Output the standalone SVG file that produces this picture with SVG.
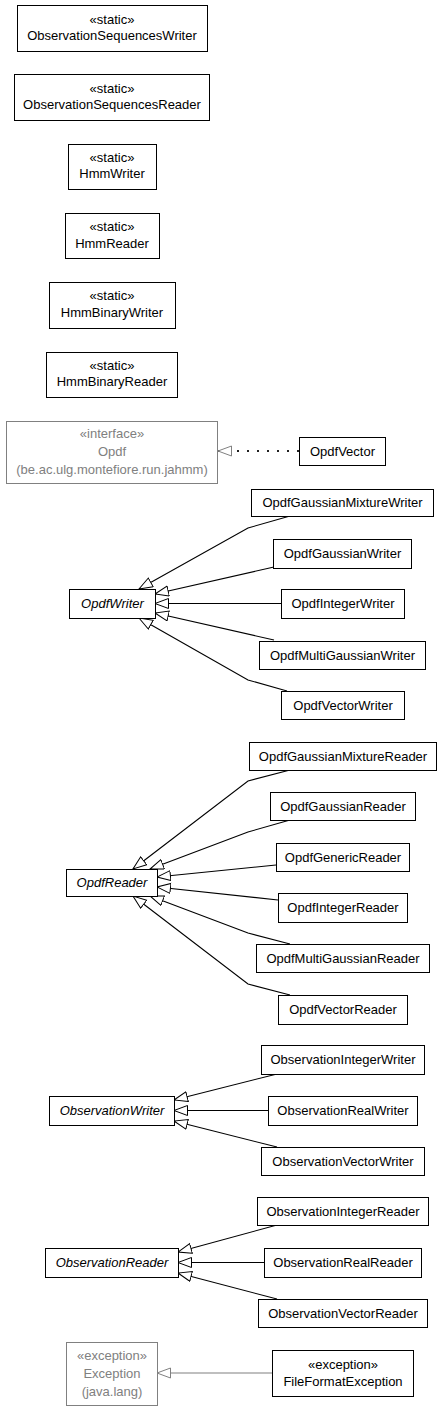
<svg xmlns="http://www.w3.org/2000/svg" width="443" height="1409" viewBox="0 0 443 1409">
<style>
  .box{fill:#fff;stroke:#000;stroke-width:1}
  .ext{fill:#fff;stroke:#808080;stroke-width:1}
  text{font-family:"Liberation Sans",Arial,sans-serif;font-size:13px;text-anchor:middle;fill:#000}
  .g{fill:#808080}
  .it{font-style:italic}
  .edge{fill:none;stroke:#000;stroke-width:1.1}
  .dot{fill:none;stroke:#222;stroke-width:2;stroke-dasharray:2,8}
</style>
<defs>
  <marker id="tri" markerUnits="userSpaceOnUse" markerWidth="16" markerHeight="12" refX="14" refY="5.5" orient="auto" viewBox="0 0 16 12">
    <path d="M0.5,0.5 L14,5.5 L0.5,10.5 Z" fill="#fff" stroke="#000" stroke-width="1"/>
  </marker>
  <marker id="trig" markerUnits="userSpaceOnUse" markerWidth="16" markerHeight="12" refX="14" refY="5.5" orient="auto" viewBox="0 0 16 12">
    <path d="M0.5,0.5 L14,5.5 L0.5,10.5 Z" fill="#fff" stroke="#808080" stroke-width="1"/>
  </marker>
</defs>

<g id="connectors">
  <path class="dot" d="M299,451 L218,451" marker-end="url(#trig)"/>
  <path class="edge" d="M290,516 L248,528 L139,589" marker-end="url(#tri)"/>
  <path class="edge" d="M274,567 L155,594" marker-end="url(#tri)"/>
  <path class="edge" d="M281,603.5 L155,603.5" marker-end="url(#tri)"/>
  <path class="edge" d="M274,640 L155,613" marker-end="url(#tri)"/>
  <path class="edge" d="M287,691 L248,680 L139,618" marker-end="url(#tri)"/>
  <path class="edge" d="M290,770 L248,781 L133,869" marker-end="url(#tri)"/>
  <path class="edge" d="M290,820 L248,832 L150,869" marker-end="url(#tri)"/>
  <path class="edge" d="M276,865 L157,877" marker-end="url(#tri)"/>
  <path class="edge" d="M278,900 L157,887" marker-end="url(#tri)"/>
  <path class="edge" d="M290,944 L248,933 L150,896" marker-end="url(#tri)"/>
  <path class="edge" d="M290,995 L248,984 L133,896" marker-end="url(#tri)"/>
  <path class="edge" d="M277,1074 L174,1100" marker-end="url(#tri)"/>
  <path class="edge" d="M268,1110.5 L174,1110.5" marker-end="url(#tri)"/>
  <path class="edge" d="M277,1147 L174,1121" marker-end="url(#tri)"/>
  <path class="edge" d="M277,1225 L178,1252" marker-end="url(#tri)"/>
  <path class="edge" d="M264,1262.5 L178,1262.5" marker-end="url(#tri)"/>
  <path class="edge" d="M277,1299 L178,1273" marker-end="url(#tri)"/>
  <path class="edge" style="stroke:#808080" d="M272,1373 L157,1373" marker-end="url(#trig)"/>
</g>

<g id="ObservationSequencesWriter"><rect class="box" x="17.5" y="5.5" width="190" height="46"/><text x="112" y="23.5">«static»</text><text x="112" y="39.5">ObservationSequencesWriter</text></g>
<g id="ObservationSequencesReader"><rect class="box" x="14.5" y="74.5" width="195" height="46"/><text x="112" y="92.5">«static»</text><text x="112" y="108.5">ObservationSequencesReader</text></g>
<g id="HmmWriter"><rect class="box" x="68.5" y="144.5" width="88" height="45"/><text x="112" y="161.5">«static»</text><text x="112" y="178">HmmWriter</text></g>
<g id="HmmReader"><rect class="box" x="65.5" y="213.5" width="94" height="45"/><text x="112" y="231">«static»</text><text x="112" y="247.5">HmmReader</text></g>
<g id="HmmBinaryWriter"><rect class="box" x="49.5" y="282.5" width="126" height="46"/><text x="112" y="300">«static»</text><text x="112" y="316.5">HmmBinaryWriter</text></g>
<g id="HmmBinaryReader"><rect class="box" x="46.5" y="352.5" width="131" height="45"/><text x="112" y="369.5">«static»</text><text x="112" y="386">HmmBinaryReader</text></g>
<g id="Opdf"><rect class="ext" x="6.5" y="421.5" width="211" height="62"/><text class="g" x="112" y="437.5">«interface»</text><text class="g" x="112" y="455.5">Opdf</text><text class="g" x="112" y="473.5">(be.ac.ulg.montefiore.run.jahmm)</text></g>
<g id="OpdfVector"><rect class="box" x="299.5" y="437.5" width="86" height="28"/><text x="342.5" y="455.5">OpdfVector</text></g>

<g id="OpdfWriter"><rect class="box" x="69.5" y="589.5" width="86" height="29"/><text class="it" x="112.5" y="608">OpdfWriter</text></g>
<g id="OpdfGaussianMixtureWriter"><rect class="box" x="251.5" y="489.5" width="182" height="27"/><text x="342.5" y="507">OpdfGaussianMixtureWriter</text></g>
<g id="OpdfGaussianWriter"><rect class="box" x="273.5" y="539.5" width="138" height="29"/><text x="342.5" y="558">OpdfGaussianWriter</text></g>
<g id="OpdfIntegerWriter"><rect class="box" x="281.5" y="589.5" width="123" height="29"/><text x="343" y="608">OpdfIntegerWriter</text></g>
<g id="OpdfMultiGaussianWriter"><rect class="box" x="259.5" y="641.5" width="166" height="28"/><text x="342.5" y="659.5">OpdfMultiGaussianWriter</text></g>
<g id="OpdfVectorWriter"><rect class="box" x="281.5" y="691.5" width="123" height="28"/><text x="343" y="709.5">OpdfVectorWriter</text></g>

<g id="OpdfReader"><rect class="box" x="66.5" y="869.5" width="91" height="27"/><text class="it" x="112" y="887">OpdfReader</text></g>
<g id="OpdfGaussianMixtureReader"><rect class="box" x="249.5" y="742.5" width="187" height="28"/><text x="343" y="760.5">OpdfGaussianMixtureReader</text></g>
<g id="OpdfGaussianReader"><rect class="box" x="270.5" y="792.5" width="145" height="28"/><text x="343" y="810.5">OpdfGaussianReader</text></g>
<g id="OpdfGenericReader"><rect class="box" x="276.5" y="843.5" width="133" height="28"/><text x="343" y="861.5">OpdfGenericReader</text></g>
<g id="OpdfIntegerReader"><rect class="box" x="278.5" y="893.5" width="129" height="29"/><text x="343" y="912">OpdfIntegerReader</text></g>
<g id="OpdfMultiGaussianReader"><rect class="box" x="256.5" y="944.5" width="173" height="28"/><text x="343" y="962.5">OpdfMultiGaussianReader</text></g>
<g id="OpdfVectorReader"><rect class="box" x="278.5" y="995.5" width="129" height="29"/><text x="343" y="1014">OpdfVectorReader</text></g>

<g id="ObservationWriter"><rect class="box" x="49.5" y="1096.5" width="125" height="29"/><text class="it" x="112" y="1115">ObservationWriter</text></g>
<g id="ObservationIntegerWriter"><rect class="box" x="261.5" y="1045.5" width="163" height="29"/><text x="343" y="1064">ObservationIntegerWriter</text></g>
<g id="ObservationRealWriter"><rect class="box" x="268.5" y="1096.5" width="149" height="29"/><text x="343" y="1115">ObservationRealWriter</text></g>
<g id="ObservationVectorWriter"><rect class="box" x="261.5" y="1147.5" width="163" height="28"/><text x="343" y="1165.5">ObservationVectorWriter</text></g>

<g id="ObservationReader"><rect class="box" x="45.5" y="1248.5" width="133" height="29"/><text class="it" x="112" y="1267">ObservationReader</text></g>
<g id="ObservationIntegerReader"><rect class="box" x="257.5" y="1197.5" width="171" height="28"/><text x="343" y="1215.5">ObservationIntegerReader</text></g>
<g id="ObservationRealReader"><rect class="box" x="264.5" y="1248.5" width="157" height="29"/><text x="343" y="1267">ObservationRealReader</text></g>
<g id="ObservationVectorReader"><rect class="box" x="258.5" y="1299.5" width="169" height="28"/><text x="343" y="1317.5">ObservationVectorReader</text></g>

<g id="Exception"><rect class="ext" x="66.5" y="1342.5" width="91" height="63"/><text class="g" x="112" y="1359.5">«exception»</text><text class="g" x="112" y="1377.5">Exception</text><text class="g" x="112" y="1395.5">(java.lang)</text></g>
<g id="FileFormatException"><rect class="box" x="272.5" y="1350.5" width="141" height="46"/><text x="343" y="1368.5">«exception»</text><text x="343" y="1385.5">FileFormatException</text></g>
</svg>
